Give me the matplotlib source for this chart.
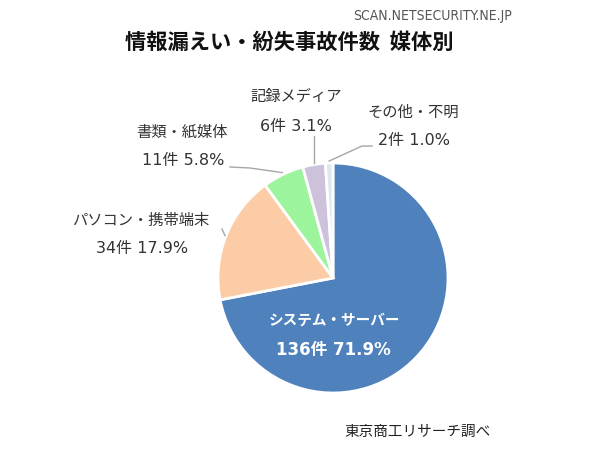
import numpy as np
import matplotlib
matplotlib.use('Agg')
import matplotlib.pyplot as plt

plt.rcParams['font.family'] = ['Noto Sans CJK JP', 'DejaVu Sans']

#### Data
categories = ['システム・サーバー', 'パソコン・携帯端末', '書類・紙媒体', '記録メディア', 'その他・不明']
counts = [136, 34, 11, 6, 2]
percents = [71.9, 17.9, 5.8, 3.1, 1.0]
colors = ['#4f81bd', '#fbcca6', '#9cf59c', '#cdc2dc', '#dde8f3']

W, H = 600, 459
def Y(py):
	# pixel row -> data y
	return H - py

fig = plt.figure(figsize=(6.0, 4.59), dpi=100)
ax = fig.add_axes([0, 0, 1, 1])

cx, cy, R = 333, Y(278), 115
wedges, _ = ax.pie(counts, colors=colors, startangle=90, counterclock=False,
				   center=(cx, cy), radius=R, frame=True,
				   wedgeprops=dict(edgecolor='white', linewidth=2))
ax.set_xlim(0, W)
ax.set_ylim(0, H)
ax.set_aspect('equal')
ax.axis('off')

# mid angles of wedges
mids = [np.deg2rad((w.theta1 + w.theta2) / 2) for w in wedges]
def edge(i, r=R):
	return cx + r * np.cos(mids[i]), cy + r * np.sin(mids[i])

fs = 11
lc = '#a6a6a6'
num_font = ['DejaVu Sans', 'Noto Sans CJK JP']

## Inside label
ax.text(cx + 2, Y(320), categories[0], color='white', fontsize=10.5, fontweight='bold', ha='center', va='center')
ax.text(cx, Y(350), '%d件 %.1f%%' % (counts[0], percents[0]), color='white', fontsize=12,
		fontweight='bold', ha='center', va='center', family=num_font)

## Outside labels: (name x, name y, value x, value y)
lab_pos = {
	1: (141, 220, 142, 248),
	2: (182, 132, 183, 160),
	3: (296, 97, 296, 126),
	4: (413, 112, 414, 141),
}
for i, (nx, ny, vx, vy) in lab_pos.items():
	ax.text(nx, Y(ny), categories[i], fontsize=fs, ha='center', va='center', color='#333333')
	ax.text(vx, Y(vy), '%d件 %.1f%%' % (counts[i], percents[i]), fontsize=11.5, ha='center', va='center',
			color='#333333', family=num_font)

## Leader lines
ex, ey = edge(1, R + 1)
ax.plot([ex, 222], [ey, Y(229)], color=lc, lw=1)
ex, ey = edge(2, R + 2)
ax.plot([ex, 250, 230], [ey, Y(168), Y(167)], color=lc, lw=1)
ex, ey = edge(3, R + 2)
ax.plot([ex, ex], [ey, Y(136)], color=lc, lw=1)
ex, ey = edge(4, R + 2)
ax.plot([ex, 362, 372], [ey, Y(146), Y(146)], color=lc, lw=1)

## Titles
ax.text(289, Y(42), '情報漏えい・紛失事故件数  媒体別', fontsize=15.3, fontweight='bold', ha='center', va='center', color='#111111')
ax.text(512, Y(16), 'SCAN.NETSECURITY.NE.JP', fontsize=10, ha='right', va='center', color='#555555',
		family=['DejaVu Sans'], fontstretch='condensed')
ax.text(417, Y(432), '東京商工リサーチ調べ', fontsize=10.5, ha='center', va='center', color='#222222')

fig.savefig('out.png', dpi=100, facecolor='white')
